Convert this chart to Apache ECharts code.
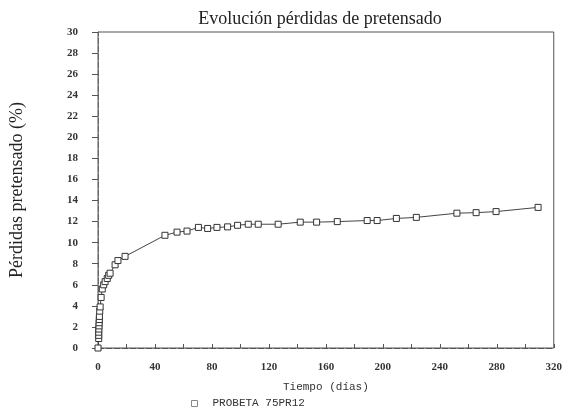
<!DOCTYPE html>
<html><head><meta charset="utf-8">
<script src="https://cdn.jsdelivr.net/npm/echarts@6/dist/echarts.min.js"></script>
<style>html,body{margin:0;padding:0;background:#fff}#c{width:565px;height:410px}</style>
</head><body><div id="c"></div>
<script>
const title = 'Evolución pérdidas de pretensado';
const yName = 'Pérdidas pretensado (%)';
const xName = 'Tiempo (días)';
const seriesName = 'PROBETA 75PR12';
const days = [0, 0.5, 0.5, 0.5, 0.6, 0.7, 0.8, 0.9, 1, 1.2, 1.5, 2.2, 3, 4, 5, 6.5, 7.5, 8.5, 12, 14, 19, 47, 55.5, 62.5, 70.5, 77, 83.5, 91, 98, 105.5, 112.5, 126.5, 142, 153.5, 168, 189, 196, 209.5, 223.5, 252, 265.5, 279.5, 309];
const losses = [0, 0.9, 1.2, 1.5, 1.8, 2.1, 2.4, 2.7, 3.0, 3.5, 3.9, 4.8, 5.6, 6.0, 6.3, 6.6, 6.9, 7.1, 7.9, 8.3, 8.7, 10.7, 11.0, 11.1, 11.45, 11.35, 11.45, 11.5, 11.65, 11.75, 11.75, 11.75, 11.95, 11.95, 12.0, 12.1, 12.1, 12.3, 12.4, 12.8, 12.85, 12.95, 13.35];

const chart = echarts.init(document.getElementById('c'));
const ink = '#333';
chart.setOption({
  animation: false,
  backgroundColor: '#fff',
  title: { text: title, left: 315, top: 5, textAlign: 'center',
    textStyle: { fontFamily: 'Liberation Serif', fontSize: 18, fontWeight: 'normal', color: '#222' } },
  grid: { left: 95, right: 10, top: 32, bottom: 62, show: true, borderColor: '#555', borderWidth: 1 },
  legend: { data: [seriesName], left: 186, top: 393, icon: 'rect', itemWidth: 6, itemHeight: 6, itemGap: 12,
    itemStyle: { color: '#fff', borderColor: '#888', borderWidth: 1 },
    textStyle: { fontFamily: 'Liberation Mono', fontSize: 11, color: '#333', padding: [0,0,0,10] } },
  xAxis: { type: 'value', min: 0, max: 320, interval: 20,
    name: xName, nameLocation: 'middle', nameGap: 34,
    nameTextStyle: { fontFamily: 'Liberation Mono', fontSize: 11, color: '#333' },
    axisLine: { lineStyle: { color: '#555', type: [6, 2] } },
    axisTick: { inside: true, length: 4, lineStyle: { color: '#555' } },
    splitLine: { show: false },
    axisLabel: { fontFamily: 'Liberation Serif', fontSize: 11, fontWeight: 'bold', color: ink, margin: 14,
      formatter: v => (v % 40 === 0 ? String(v) : '') } },
  yAxis: { type: 'value', min: 0, max: 30, interval: 2,
    name: yName, nameLocation: 'middle', nameGap: 72,
    nameTextStyle: { fontFamily: 'Liberation Serif', fontSize: 18, color: '#222' },
    axisLine: { lineStyle: { color: '#666', type: [6, 2] } },
    axisTick: { inside: false, length: 6, lineStyle: { color: '#555' } },
    splitLine: { show: false },
    axisLabel: { fontFamily: 'Liberation Serif', fontSize: 11, fontWeight: 'bold', color: ink, margin: 20 } },
  series: [{
    name: seriesName, type: 'line',
    data: days.map((d, i) => [d, losses[i]]),
    symbol: 'rect', symbolSize: 6, showSymbol: true,
    lineStyle: { color: '#444', width: 1 },
    itemStyle: { color: '#fff', borderColor: '#333', borderWidth: 1 }
  }]
});
</script></body></html>
